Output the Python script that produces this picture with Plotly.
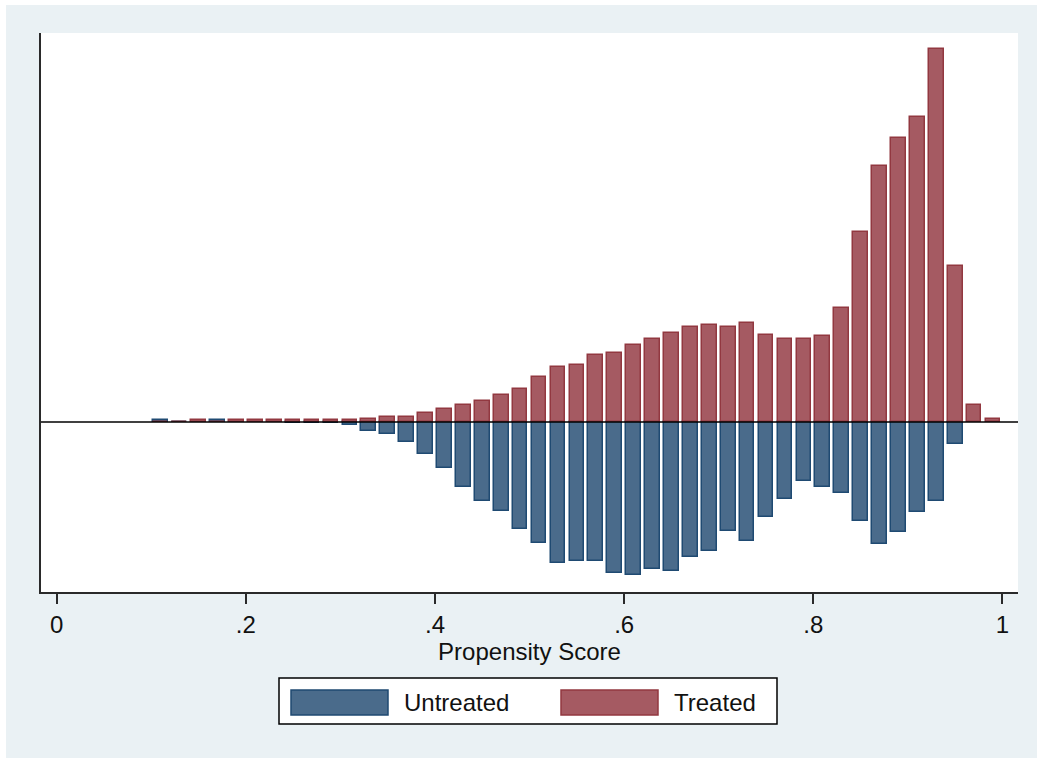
import plotly.graph_objects as go

# Bin centres of the propensity-score histogram
bin_centers = [0.11, 0.13, 0.15, 0.17, 0.19, 0.21, 0.23, 0.25, 0.27, 0.29,
               0.31, 0.33, 0.35, 0.37, 0.39, 0.41, 0.43, 0.45, 0.47, 0.49,
               0.51, 0.53, 0.55, 0.57, 0.59, 0.61, 0.63, 0.65, 0.67, 0.69,
               0.71, 0.73, 0.75, 0.77, 0.79, 0.81, 0.83, 0.85, 0.87, 0.89,
               0.91, 0.93, 0.95, 0.97, 0.99]

# Treated (drawn upwards)
treated = [0.0, 0.0, 0.2, 0.0, 0.2, 0.2, 0.2, 0.2, 0.2, 0.2,
           0.2, 0.3, 0.5, 0.5, 0.9, 1.26, 1.7, 2.06, 2.7, 3.27,
           4.5, 5.5, 5.7, 6.7, 6.9, 7.7, 8.3, 8.9, 9.5, 9.7,
           9.5, 9.9, 8.7, 8.3, 8.3, 8.6, 11.4, 19.0, 25.6, 28.4,
           30.5, 37.3, 15.6, 1.7, 0.3]

# Untreated (drawn downwards)
untreated = [0.2, 0.0, 0.0, 0.2, 0.0, 0.0, 0.0, -0.07, -0.07, -0.07,
             -0.3, -0.85, -1.24, -2.04, -3.24, -4.64, -6.5, -7.9, -8.9, -10.7,
             -12.1, -14.1, -13.9, -13.9, -15.1, -15.3, -14.7, -14.9, -13.5, -12.9,
             -10.9, -11.9, -9.5, -7.7, -5.9, -6.5, -7.1, -9.9, -12.2, -11.0,
             -9.0, -7.9, -2.2, 0.0, 0.0]

x_tick_vals = [0, 0.2, 0.4, 0.6, 0.8, 1]
x_tick_text = ["0", ".2", ".4", ".6", ".8", "1"]
legend_labels = ["Untreated", "Treated"]

BLUE_FILL = "#4a6b8b"
BLUE_LINE = "#1f4a72"
RED_FILL = "#a55a62"
RED_LINE = "#923840"
BG = "#eaf1f4"
FONT = "Liberation Sans, Arial, sans-serif"

W, H = 1037, 758
ML, MR, MT, MB = 41, 19, 33, 166
PW = W - ML - MR
PH = H - MT - MB


def px_x(p):
    return (p - ML) / PW


def px_y(p):
    return (H - MB - p) / PH


fig = go.Figure()
fig.add_trace(go.Bar(x=bin_centers, y=untreated, name=legend_labels[0],
                     width=0.0155,
                     marker=dict(color=BLUE_FILL, line=dict(color=BLUE_LINE, width=1.5))))
fig.add_trace(go.Bar(x=bin_centers, y=treated, name=legend_labels[1],
                     width=0.0155,
                     marker=dict(color=RED_FILL, line=dict(color=RED_LINE, width=1.5))))

shapes = [
    # outer graph background (thin white page margin at top/left)
    dict(type="rect", xref="paper", yref="paper", layer="below",
         x0=px_x(6), x1=px_x(W + 2), y0=px_y(5), y1=px_y(H + 2),
         fillcolor=BG, line=dict(width=0)),
    # plot region
    dict(type="rect", xref="paper", yref="paper", layer="below",
         x0=0, x1=1, y0=0, y1=1, fillcolor="white", line=dict(width=0)),
    # zero line on top of bars
    dict(type="line", xref="paper", yref="y", layer="above",
         x0=0, x1=1, y0=0, y1=0, line=dict(color="black", width=1.5)),
    # legend box
    dict(type="rect", xref="paper", yref="paper",
         x0=px_x(279), x1=px_x(777), y0=px_y(678), y1=px_y(724),
         fillcolor="white", line=dict(color="black", width=1.5)),
    dict(type="rect", xref="paper", yref="paper",
         x0=px_x(291), x1=px_x(388), y0=px_y(690), y1=px_y(715),
         fillcolor=BLUE_FILL, line=dict(color=BLUE_LINE, width=1.5)),
    dict(type="rect", xref="paper", yref="paper",
         x0=px_x(561), x1=px_x(658), y0=px_y(690), y1=px_y(715),
         fillcolor=RED_FILL, line=dict(color=RED_LINE, width=1.5)),
]

annotations = [
    dict(text=legend_labels[0], xref="paper", yref="paper", x=px_x(402), y=px_y(702),
         xanchor="left", yanchor="middle", showarrow=False,
         font=dict(family=FONT, size=24, color="#111")),
    dict(text=legend_labels[1], xref="paper", yref="paper", x=px_x(672), y=px_y(702),
         xanchor="left", yanchor="middle", showarrow=False,
         font=dict(family=FONT, size=24, color="#111")),
]

fig.update_layout(
    width=W, height=H,
    margin=dict(l=ML, r=MR, t=MT, b=MB),
    paper_bgcolor="white", plot_bgcolor="white",
    barmode="overlay", bargap=0,
    showlegend=False,
    shapes=shapes, annotations=annotations,
    font=dict(family=FONT, size=24, color="#111"),
)
fig.update_xaxes(range=[-0.0166, 1.0164], tickvals=x_tick_vals, ticktext=x_tick_text,
                 showline=True, linecolor="#2a2a2a", linewidth=2, mirror=False,
                 ticks="outside", ticklen=10, tickwidth=2, tickcolor="#2a2a2a",
                 showgrid=False, zeroline=False,
                 tickfont=dict(family=FONT, size=24, color="#111"),
                 title=dict(text="Propensity Score", standoff=0,
                            font=dict(family=FONT, size=24, color="#111")))
fig.update_yaxes(range=[-17.0, 38.9], showline=True, linecolor="#2a2a2a", linewidth=2,
                 showticklabels=False, ticks="", showgrid=False, zeroline=False)

fig.write_html("out.html",
               config={"displayModeBar": False},
               post_script="document.body.style.margin='0';document.body.style.overflow='hidden';")
